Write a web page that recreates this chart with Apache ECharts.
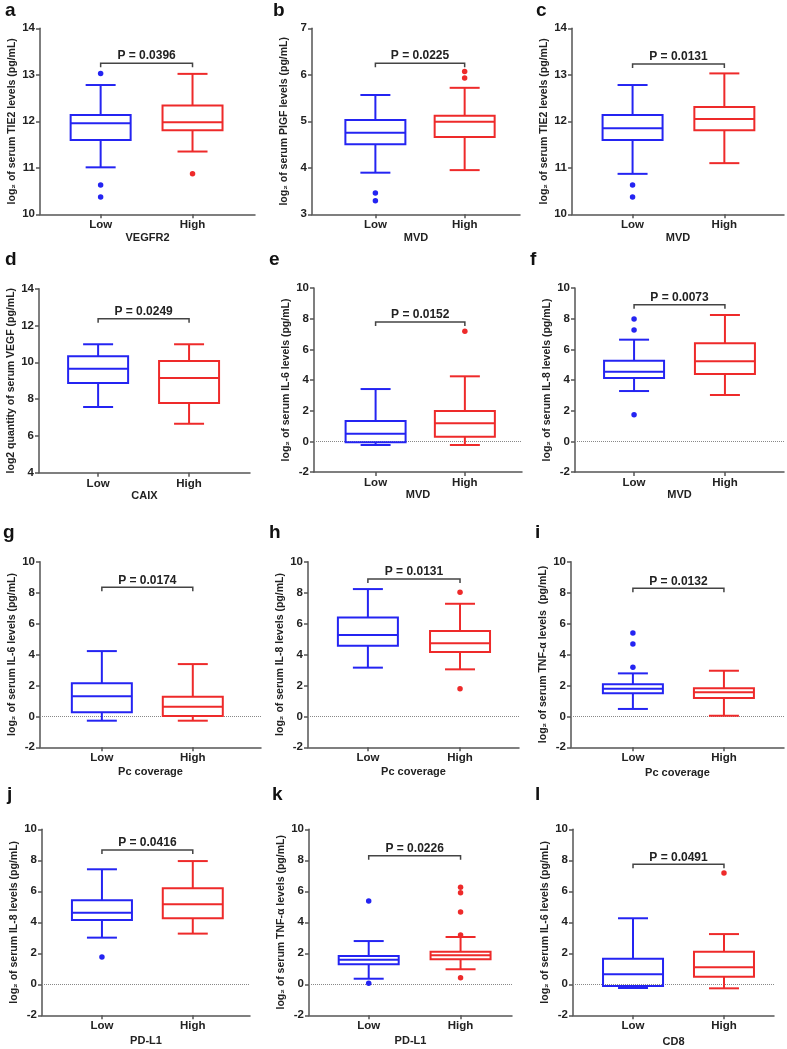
<!DOCTYPE html>
<html><head><meta charset="utf-8">
<script src="https://cdn.jsdelivr.net/npm/echarts@6.0.0/dist/echarts.min.js"></script>
<style>html,body{margin:0;padding:0;background:#fff}#c{width:787px;height:1049px}</style>
</head><body><div id="c"></div>
<script>
// ---------------- DATA ----------------
const categories = ['Low', 'High'];
const panelLetters = ['a','b','c','d','e','f','g','h','i','j','k','l'];
const xNames = ['VEGFR2','MVD','MVD','CAIX','MVD','MVD','Pc coverage','Pc coverage','Pc coverage','PD-L1','PD-L1','CD8'];
const yNames = [
  'log\u2082 of serum TIE2 levels (pg/mL)',
  'log\u2082 of serum PIGF levels (pg/mL)',
  'log\u2082 of serum TIE2 levels (pg/mL)',
  'log2 quantity of serum VEGF (pg/mL)',
  'log\u2082 of serum IL-6 levels (pg/mL)',
  'log\u2082 of serum IL-8 levels (pg/mL)',
  'log\u2082 of serum IL-6 levels (pg/mL)',
  'log\u2082 of serum IL-8 levels (pg/mL)',
  'log\u2082 of serum TNF-\u03b1 levels  (pg/mL)',
  'log\u2082 of serum IL-8 levels (pg/mL)',
  'log\u2082 of serum TNF-\u03b1 levels (pg/mL)',
  'log\u2082 of serum IL-6 levels (pg/mL)'
];
const pValues = ['P = 0.0396','P = 0.0225','P = 0.0131','P = 0.0249','P = 0.0152','P = 0.0073',
                 'P = 0.0174','P = 0.0131','P = 0.0132','P = 0.0416','P = 0.0226','P = 0.0491'];
// y-axis tick ranges
const yMin  = [10, 3, 10, 4, -2, -2, -2, -2, -2, -2, -2, -2];
const yMax  = [14, 7, 14, 14, 10, 10, 10, 10, 10, 10, 10, 10];
const yStep = [1, 1, 1, 2, 2, 2, 2, 2, 2, 2, 2, 2];
// box values: [min, Q1, median, Q3, max]
const lowBoxes = [
  [11.01, 11.60, 11.96, 12.135, 12.78],
  [3.895, 4.505, 4.755, 5.03, 5.566],
  [10.87, 11.60, 11.85, 12.135, 12.78],
  [7.57, 8.875, 9.65, 10.33, 10.98],
  [-0.24, -0.06, 0.50, 1.33, 3.41],
  [3.28, 4.13, 4.54, 5.26, 6.63],
  [-0.28, 0.26, 1.30, 2.14, 4.22],
  [3.15, 4.57, 5.26, 6.40, 8.23],
  [0.48, 1.49, 1.79, 2.07, 2.78],
  [3.01, 4.15, 4.62, 5.42, 7.42],
  [0.36, 1.29, 1.59, 1.83, 2.79],
  [-0.24, -0.11, 0.65, 1.65, 4.26]
];
const highBoxes = [
  [11.35, 11.81, 11.98, 12.34, 13.02],
  [3.95, 4.66, 4.99, 5.12, 5.72],
  [11.10, 11.81, 12.05, 12.31, 13.03],
  [6.66, 7.79, 9.15, 10.07, 10.98],
  [-0.24, 0.30, 1.18, 1.98, 4.24],
  [3.02, 4.39, 5.22, 6.39, 8.24],
  [-0.28, 0.03, 0.62, 1.27, 3.38],
  [3.04, 4.16, 4.72, 5.52, 7.28],
  [0.04, 1.19, 1.56, 1.81, 2.95],
  [3.27, 4.26, 5.16, 6.19, 7.95],
  [0.97, 1.61, 1.87, 2.10, 3.05],
  [-0.26, 0.49, 1.10, 2.10, 3.24]
];
const lowOutliers = [
  [13.03, 10.63, 10.37], [3.46, 3.29], [10.63, 10.37], [], [], [7.98, 7.26, 1.74],
  [], [], [5.39, 4.68, 3.17], [1.76], [5.37, 0.06], []
];
const highOutliers = [
  [10.87], [6.07, 5.93], [], [], [7.18], [],
  [], [8.02, 1.79], [], [], [6.26, 5.91, 4.66, 3.18, 0.43], [7.18]
];
const bracketY = [13.25, 6.25, 13.23, 12.37, 7.78, 8.91, 8.34, 8.88, 8.28, 8.66, 8.29, 7.74];
const zeroLinePanels = [4, 5, 6, 7, 8, 9, 10, 11];

// ---------------- LAYOUT / STYLE ----------------
const FONT = '"Liberation Sans", Arial, "DejaVu Sans", sans-serif';
const BLUE = '#2424f2', RED = '#ee2a2a', AXIS = '#555', TXT = '#222';
const groupColors = [BLUE, RED];
const BOX_HALF = 30, CAP_HALF = 15;
// grid: [left, top, right, bottom] ; xr: value range of x ; letter: [left, top] ; xg: x-name gap
const layout = [
  {grid:[40,28.3,255,214.3],   xr:[0.34,2.68], letter:[5,1],     xg:17},
  {grid:[312,28.3,520,214.3],  xr:[0.29,2.62], letter:[273,1],   xg:17},
  {grid:[572,28.3,784,214.3],  xr:[0.34,2.65], letter:[536,1],   xg:15},
  {grid:[39,288.7,250,472.7],  xr:[0.35,2.67], letter:[5,250],   xg:13},
  {grid:[314,288,522,472],     xr:[0.31,2.64], letter:[269,250], xg:16},
  {grid:[575,288,784,472],     xr:[0.35,2.65], letter:[530,250], xg:14},
  {grid:[40,561.7,261,747.3],  xr:[0.32,2.75], letter:[3,523],   xg:19},
  {grid:[308,561.7,519,747.3], xr:[0.35,2.64], letter:[269,523], xg:19},
  {grid:[571,561.7,784,747.3], xr:[0.32,2.66], letter:[535,523], xg:20},
  {grid:[42,829.3,250,1015.3], xr:[0.34,2.63], letter:[7,785],   xg:20},
  {grid:[309,829.3,512,1015.3],xr:[0.35,2.56], letter:[272,785], xg:20},
  {grid:[573,829.3,774,1015.3],xr:[0.34,2.55], letter:[535,785], xg:21}
];

function boxItem(params, api) {
  const x = api.value(0);
  const c = k => api.coord([x, api.value(k)]);
  const pMin = c(1), pQ1 = c(2), pMed = c(3), pQ3 = c(4), pMax = c(5);
  const cx = pMed[0];
  const color = groupColors[params.dataIndex];
  const st = {stroke: color, lineWidth: 2, fill: 'none'};
  const ln = (x1, y1, x2, y2) => ({type: 'line', shape: {x1, y1, x2, y2}, style: st});
  return {type: 'group', children: [
    {type: 'rect', shape: {x: cx - BOX_HALF, y: pQ3[1], width: BOX_HALF * 2, height: pQ1[1] - pQ3[1]}, style: st},
    ln(cx - BOX_HALF, pMed[1], cx + BOX_HALF, pMed[1]),
    ln(cx, pQ3[1], cx, pMax[1]),
    ln(cx - CAP_HALF, pMax[1], cx + CAP_HALF, pMax[1]),
    ln(cx, pQ1[1], cx, pMin[1]),
    ln(cx - CAP_HALF, pMin[1], cx + CAP_HALF, pMin[1])
  ]};
}

function bracketItemFor(i) {
  return function (params, api) {
    const p1 = api.coord([api.value(0), api.value(2)]);
    const p2 = api.coord([api.value(1), api.value(2)]);
    const d = 4;
    return {type: 'group', children: [
      {type: 'polyline', shape: {points: [[p1[0], p1[1] + d], [p1[0], p1[1]], [p2[0], p2[1]], [p2[0], p2[1] + d]]},
       style: {stroke: '#444', lineWidth: 1.5, fill: 'none'}},
      {type: 'text', style: {text: pValues[i], x: (p1[0] + p2[0]) / 2, y: p1[1] - 1,
        align: 'center', verticalAlign: 'bottom', fontSize: 12, fontWeight: 'bold', fontFamily: FONT, fill: TXT}}
    ]};
  };
}

const option = {
  animation: false,
  backgroundColor: '#fff',
  textStyle: {fontFamily: FONT},
  title: [], grid: [], xAxis: [], yAxis: [], series: []
};

panelLetters.forEach((letter, i) => {
  const L = layout[i];
  option.title.push({text: letter, left: L.letter[0], top: L.letter[1], padding: 0,
    textStyle: {fontSize: 19, fontWeight: 'bold', color: '#111', fontFamily: FONT}});
  option.grid.push({left: L.grid[0], top: L.grid[1], width: L.grid[2] - L.grid[0], height: L.grid[3] - L.grid[1],
    containLabel: false, outerBoundsMode: 'none'});
  option.xAxis.push({
    gridIndex: i, type: 'value', min: L.xr[0], max: L.xr[1],
    name: xNames[i], nameLocation: 'middle', nameGap: L.xg,
    nameTextStyle: {fontSize: 11, fontWeight: 'bold', color: TXT, fontFamily: FONT},
    axisLine: {show: true, onZero: false, lineStyle: {color: AXIS, width: 1.5}},
    axisTick: {show: true, customValues: [1, 2], length: 4, lineStyle: {color: AXIS, width: 1.5}},
    axisLabel: {show: true, customValues: [1, 2], formatter: v => categories[Math.round(v) - 1] || '',
      margin: 5, fontSize: 11.5, fontWeight: 'bold', color: TXT, fontFamily: FONT},
    splitLine: {show: false}
  });
  option.yAxis.push({
    gridIndex: i, type: 'value', min: yMin[i], max: yMax[i], interval: yStep[i],
    name: yNames[i], nameLocation: 'middle', nameGap: 22, nameRotate: 90,
    nameTextStyle: {fontSize: 10.5, fontWeight: 'bold', color: TXT, fontFamily: FONT},
    axisLine: {show: true, onZero: false, lineStyle: {color: AXIS, width: 1.5}},
    axisTick: {show: true, length: 4, lineStyle: {color: AXIS, width: 1.5}},
    axisLabel: {show: true, margin: 5, fontSize: 11.5, fontWeight: 'bold', color: TXT, fontFamily: FONT},
    splitLine: {show: false}
  });
  const boxSeries = {
    type: 'custom', xAxisIndex: i, yAxisIndex: i, renderItem: boxItem, clip: false,
    encode: {x: 0, y: [1, 2, 3, 4, 5]},
    data: [[1].concat(lowBoxes[i]), [2].concat(highBoxes[i])], z: 3
  };
  if (zeroLinePanels.includes(i)) {
    boxSeries.markLine = {silent: true, symbol: 'none', label: {show: false},
      lineStyle: {type: 'dotted', color: '#888', width: 1}, data: [{yAxis: 0}], z: 1};
  }
  option.series.push(boxSeries);
  option.series.push({
    type: 'scatter', xAxisIndex: i, yAxisIndex: i, symbolSize: 5.5, z: 4,
    data: lowOutliers[i].map(v => [1, v]).concat(highOutliers[i].map(v => [2, v])),
    itemStyle: {opacity: 1, color: p => groupColors[p.value[0] - 1]}
  });
  option.series.push({
    type: 'custom', xAxisIndex: i, yAxisIndex: i, renderItem: bracketItemFor(i), clip: false,
    encode: {x: [0, 1], y: 2}, data: [[1, 2, bracketY[i]]], z: 5
  });
});

const chart = echarts.init(document.getElementById('c'), null, {renderer: 'canvas'});
chart.setOption(option);
</script>
</body></html>
